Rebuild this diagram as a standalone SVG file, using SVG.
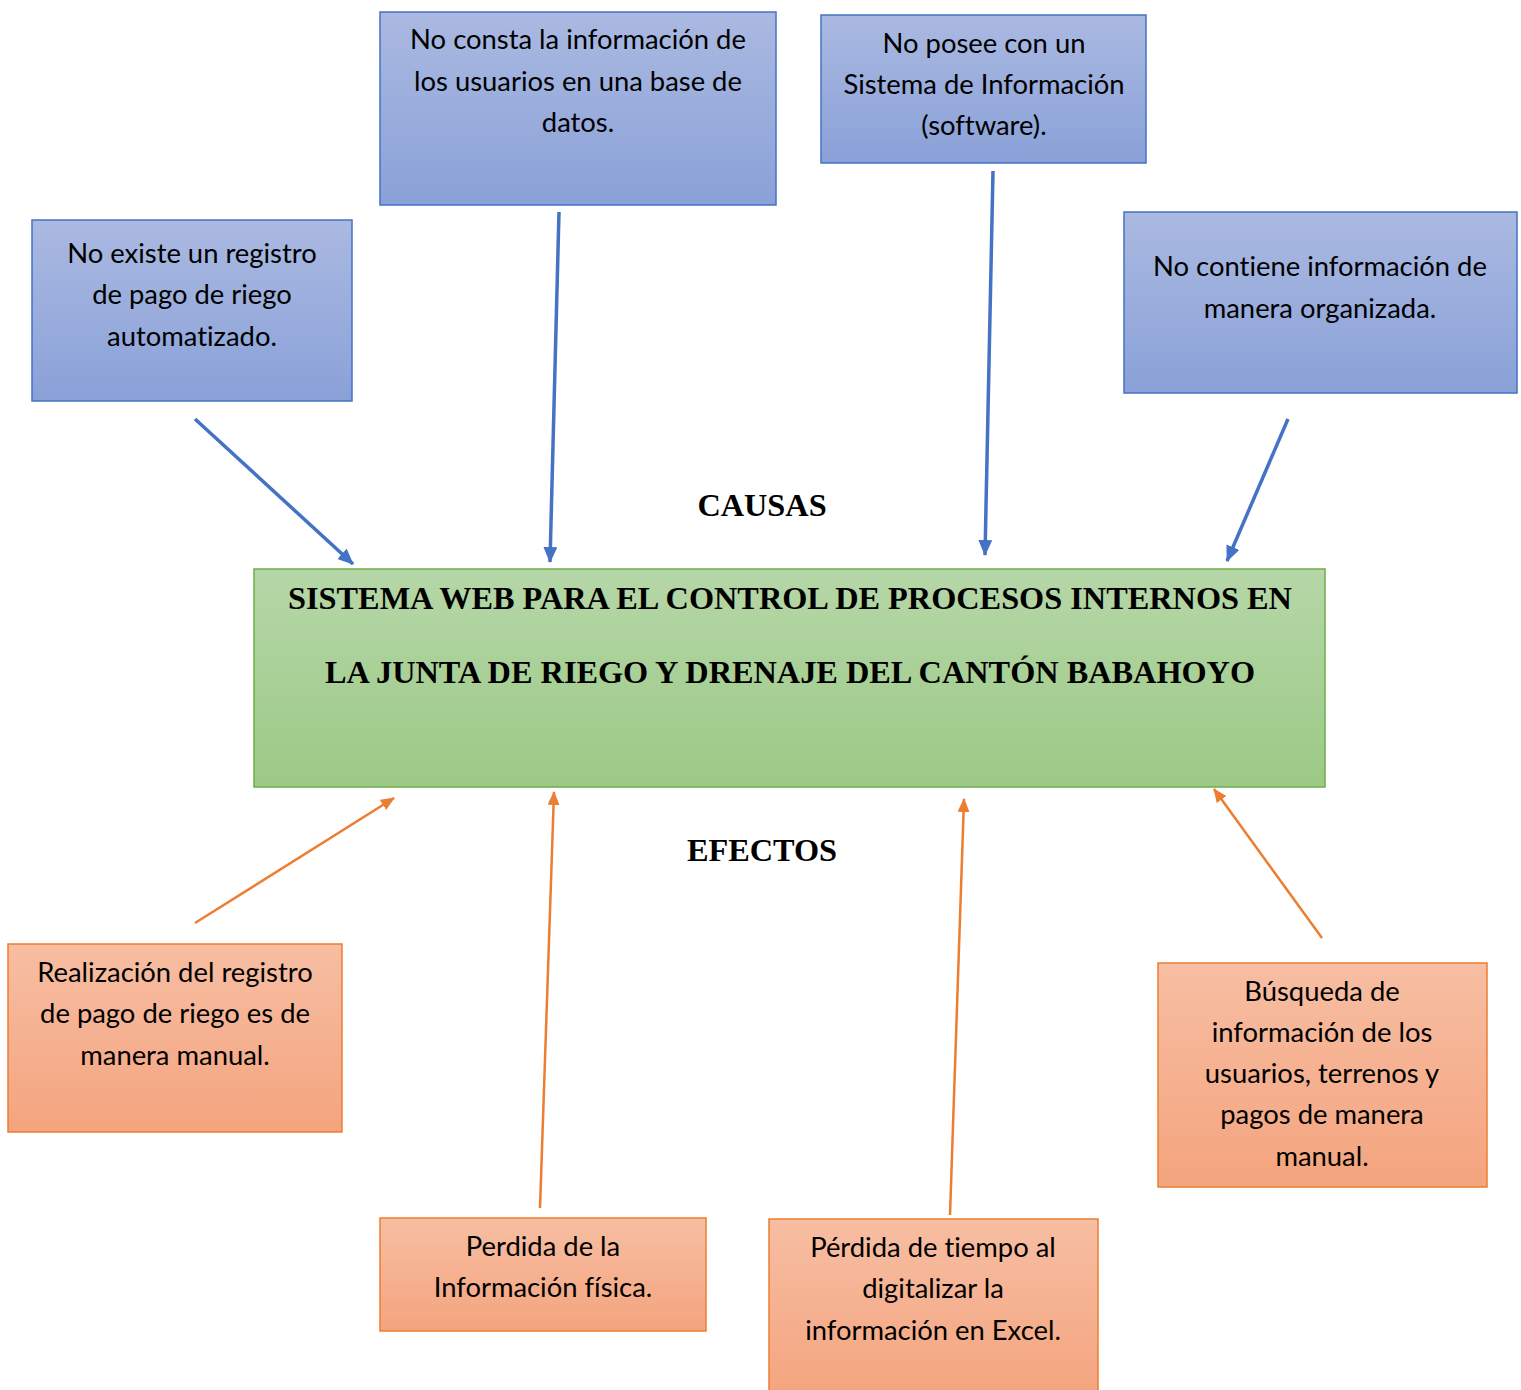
<svg xmlns="http://www.w3.org/2000/svg" width="1521" height="1390" viewBox="0 0 1521 1390">
  <style>
    .cause rect { fill: url(#gBlue); stroke: #4472c4; stroke-width: 1.5; }
    .effect rect { fill: url(#gOrange); stroke: #ed7d31; stroke-width: 1.5; }
    .core rect { fill: url(#gGreen); stroke: #70ad47; stroke-width: 1.5; }
    .lbl { font-family: Lato, "Open Sans", sans-serif; font-size: 27.4px; fill: #000; text-anchor: middle; font-variant-ligatures: none; }
    .title { font-family: "Liberation Serif", "Times New Roman", serif; font-weight: bold; font-size: 32.3px; fill: #000; text-anchor: middle; }
    .blue { stroke: #4472c4; stroke-width: 3.5; fill: none; marker-end: url(#headBlue); }
    .orange { stroke: #ed7d31; stroke-width: 2.5; fill: none; marker-end: url(#headOrange); }
  </style>
  <defs>
    <linearGradient id="gBlue" x1="0" y1="0" x2="0" y2="1">
      <stop offset="0" stop-color="#aab9e1"/>
      <stop offset="1" stop-color="#8aa1d8"/>
    </linearGradient>
    <linearGradient id="gOrange" x1="0" y1="0" x2="0" y2="1">
      <stop offset="0" stop-color="#f7bea3"/>
      <stop offset="1" stop-color="#f4a47e"/>
    </linearGradient>
    <linearGradient id="gGreen" x1="0" y1="0" x2="0" y2="1">
      <stop offset="0" stop-color="#b6d7a8"/>
      <stop offset="1" stop-color="#9cc986"/>
    </linearGradient>
    <marker id="headBlue" markerUnits="userSpaceOnUse" markerWidth="16" markerHeight="14" refX="15" refY="7" orient="auto">
      <path d="M0,0 L16,7 L0,14 z" fill="#4472c4"/>
    </marker>
    <marker id="headOrange" markerUnits="userSpaceOnUse" markerWidth="14" markerHeight="12" refX="13" refY="6" orient="auto">
      <path d="M0,0 L14,6 L0,12 z" fill="#ed7d31"/>
    </marker>
  </defs>

  <!-- causes -->
  <g id="cause-registro" class="cause">
    <rect x="32" y="220" width="320" height="181"/>
    <text class="lbl" x="192" y="263">No existe un registro</text>
    <text class="lbl" x="192" y="304">de pago de riego</text>
    <text class="lbl" x="192" y="346">automatizado.</text>
  </g>
  <g id="cause-base-datos" class="cause">
    <rect x="380" y="12" width="396" height="193"/>
    <text class="lbl" x="578" y="49">No consta la información de</text>
    <text class="lbl" x="578" y="91">los usuarios en una base de</text>
    <text class="lbl" x="578" y="132">datos.</text>
  </g>
  <g id="cause-software" class="cause">
    <rect x="821" y="15" width="325" height="148"/>
    <text class="lbl" x="984" y="53">No posee con un</text>
    <text class="lbl" x="984" y="94">Sistema de Información</text>
    <text class="lbl" x="984" y="135">(software).</text>
  </g>
  <g id="cause-organizada" class="cause">
    <rect x="1124" y="212" width="393" height="181"/>
    <text class="lbl" x="1320" y="276">No contiene información de</text>
    <text class="lbl" x="1320" y="318">manera organizada.</text>
  </g>

  <!-- central problem -->
  <g id="problema" class="core">
    <rect x="254" y="569" width="1071" height="218"/>
    <text class="title" x="790" y="609">SISTEMA WEB PARA EL CONTROL DE PROCESOS INTERNOS EN</text>
    <text class="title" x="790" y="683">LA JUNTA DE RIEGO Y DRENAJE DEL CANTÓN BABAHOYO</text>
  </g>

  <g id="etiqueta-causas">
    <text class="title" x="762" y="516">CAUSAS</text>
  </g>
  <g id="etiqueta-efectos">
    <text class="title" x="762" y="861">EFECTOS</text>
  </g>

  <!-- effects -->
  <g id="efecto-manual" class="effect">
    <rect x="8" y="944" width="334" height="188"/>
    <text class="lbl" x="175" y="982">Realización del registro</text>
    <text class="lbl" x="175" y="1023">de pago de riego es de</text>
    <text class="lbl" x="175" y="1065">manera manual.</text>
  </g>
  <g id="efecto-fisica" class="effect">
    <rect x="380" y="1218" width="326" height="113"/>
    <text class="lbl" x="543" y="1256">Perdida de la</text>
    <text class="lbl" x="543" y="1297">Información física.</text>
  </g>
  <g id="efecto-excel" class="effect">
    <rect x="769" y="1219" width="329" height="180"/>
    <text class="lbl" x="933" y="1257">Pérdida de tiempo al</text>
    <text class="lbl" x="933" y="1298">digitalizar la</text>
    <text class="lbl" x="933" y="1340">información en Excel.</text>
  </g>
  <g id="efecto-busqueda" class="effect">
    <rect x="1158" y="963" width="329" height="224"/>
    <text class="lbl" x="1322" y="1001">Búsqueda de</text>
    <text class="lbl" x="1322" y="1042">información de los</text>
    <text class="lbl" x="1322" y="1083">usuarios, terrenos y</text>
    <text class="lbl" x="1322" y="1124">pagos de manera</text>
    <text class="lbl" x="1322" y="1166">manual.</text>
  </g>

  <!-- connectors -->
  <g id="connectors">
    <line class="blue" x1="195" y1="419" x2="353" y2="564"/>
    <line class="blue" x1="559" y1="212" x2="550" y2="562"/>
    <line class="blue" x1="993" y1="171" x2="985" y2="555"/>
    <line class="blue" x1="1288" y1="419" x2="1227" y2="561"/>
    <line class="orange" x1="195" y1="923" x2="394" y2="798"/>
    <line class="orange" x1="540" y1="1208" x2="554" y2="792"/>
    <line class="orange" x1="950" y1="1215" x2="964" y2="799"/>
    <line class="orange" x1="1322" y1="938" x2="1214" y2="789"/>
  </g>
</svg>
